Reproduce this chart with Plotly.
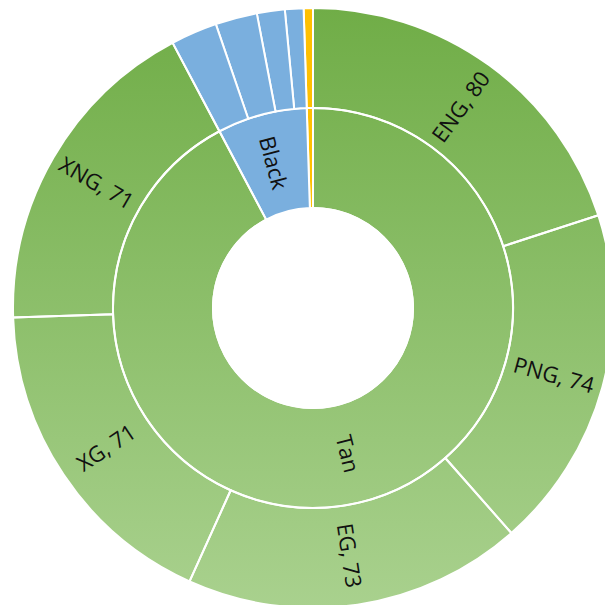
import base64
import math
import plotly.graph_objects as go

# ---- data (listed clockwise from 12 o'clock) ----
tan_labels = ["ENG", "PNG", "EG", "XG", "XNG"]
tan_values = [80, 74, 73, 71, 71]
black_labels = ["B1", "B2", "B3", "B4"]
black_values = [10, 9, 6, 4]
yellow_labels = ["Y1"]
yellow_values = [2]

GREEN = "rgba(0,0,0,0)"  # green slices show the gradient underneath
BLUE = "#7AAFDE"
YELLOW = "#FFC000"
TEXT_FONT = dict(family="Open Sans", size=22, color="#111111")

groups = [
    ("Tan", tan_labels, tan_values, GREEN, True),
    ("Black", black_labels, black_values, BLUE, False),
    ("Yellow", yellow_labels, yellow_values, YELLOW, False),
]

ids, labels, parents, values, colors = [], [], [], [], []
def add(i, lab, par, val, col):
    ids.append(i); labels.append(lab); parents.append(par)
    values.append(val); colors.append(col)

total = sum(sum(g[2]) for g in groups)
add("root", " ", "", total, "white")
# plotly draws counter-clockwise, so add groups and children in reverse order
for name, labs, vals, col, _ in groups[::-1]:
    add(name, name, "root", sum(vals), col)
    for l, v in zip(labs[::-1], vals[::-1]):
        add(name + "/" + l, l, name, v, col)

fig = go.Figure(go.Sunburst(
    ids=ids, labels=labels, parents=parents, values=values,
    branchvalues="total", sort=False, rotation=90,
    textinfo="none",
    marker=dict(colors=colors, line=dict(color="white", width=2)),
    leaf=dict(opacity=1),
    hoverinfo="none",
))

# radial labels at each sector's mid-angle (as Excel places them)
R_INNER = 0.25      # middle of the inner ring, in paper units
R_OUTER = 5.0 / 12  # middle of the outer ring
annotations = []
def radial_label(text, theta, r):
    rad = math.radians(theta)
    ang = theta - 90 if theta < 180 else theta - 270
    annotations.append(dict(
        text=text, x=0.5 + r * math.sin(rad), y=0.5 + r * math.cos(rad),
        xref="paper", yref="paper", xanchor="center", yanchor="middle",
        showarrow=False, textangle=ang, font=TEXT_FONT))

cum = 0
for name, labs, vals, col, show_children in groups:
    gsum = sum(vals)
    if name != "Yellow":
        radial_label(name, (cum + gsum / 2) / total * 360, R_INNER)
    c = cum
    for l, v in zip(labs, vals):
        if show_children:
            radial_label(f"{l}, {v}", (c + v / 2) / total * 360, R_OUTER)
        c += v
    cum += gsum

svg = ("<svg xmlns='http://www.w3.org/2000/svg' width='600' height='600'>"
       "<defs><linearGradient id='g' x1='0' y1='0' x2='0' y2='1'>"
       "<stop offset='0' stop-color='#70AD47'/><stop offset='1' stop-color='#A9D18E'/>"
       "</linearGradient></defs>"
       "<circle cx='300' cy='300' r='300' fill='url(#g)'/></svg>")
src = "data:image/svg+xml;base64," + base64.b64encode(svg.encode()).decode()

fig.update_layout(
    width=613, height=608,
    margin=dict(l=13, t=8, r=0, b=0),
    paper_bgcolor="white",
    showlegend=False,
    annotations=annotations,
    images=[dict(source=src, xref="paper", yref="paper", x=0, y=1,
                 sizex=1, sizey=1, xanchor="left", yanchor="top",
                 sizing="stretch", layer="below")],
)

fig.write_html("out.html", config={"displayModeBar": False},
               post_script="document.body.style.margin='0';document.body.style.overflow='hidden';")
